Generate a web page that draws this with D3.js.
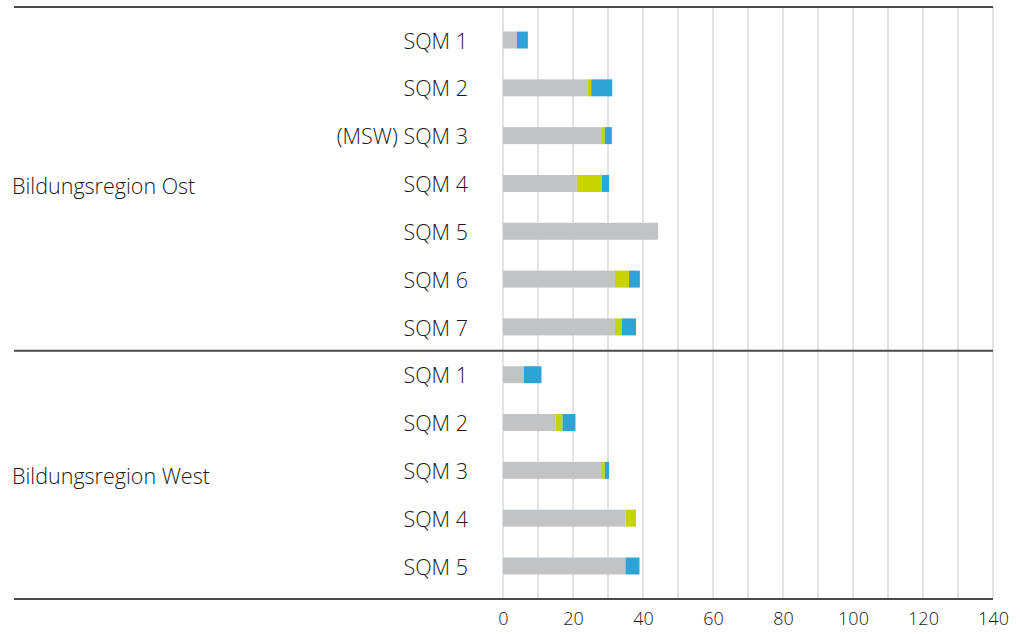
<!DOCTYPE html>
<html>
<head>
<meta charset="utf-8">
<script src="https://cdn.jsdelivr.net/npm/d3@7"></script>
<style>
    body { margin: 0; background: #fff; }
    text { font-family: "Open Sans", sans-serif; font-weight: 300; fill: #1a1a1a; }
</style>
</head>
<body>
<div id="chartArea"></div>
<script>
// data
let groups = ["Bildungsregion Ost", "Bildungsregion West"];
let ostLabels = ["SQM 1", "SQM 2", "(MSW) SQM 3", "SQM 4", "SQM 5", "SQM 6", "SQM 7"];
let westLabels = ["SQM 1", "SQM 2", "SQM 3", "SQM 4", "SQM 5"];

let ostGrau = [4, 24.2, 28, 21.1, 44.3, 32, 32];
let ostGelb = [0, 1, 1.1, 7.2, 0, 4, 2];
let ostBlau = [3.1, 6, 2, 2, 0, 3.1, 4];

let westGrau = [6, 15, 28, 35, 35];
let westGelb = [0, 2, 1.1, 3, 0];
let westBlau = [5, 3.7, 1.2, 0, 4];

let xTicks = [0, 20, 40, 60, 80, 100, 120, 140];

let colors = ["#c1c4c7", "#c8d400", "#2ea3d5"];

function drawGraph() {
    let width = 1021, height = 634;
    let left = 14, right = 993, top = 7, bottom = 599;

    // one row per bar, group id kept for the labels
    let rows = [];
    ostLabels.forEach((l, i) => rows.push({ id: 'o' + i, group: 0, label: l, vals: [ostGrau[i], ostGelb[i], ostBlau[i]] }));
    westLabels.forEach((l, i) => rows.push({ id: 'w' + i, group: 1, label: l, vals: [westGrau[i], westGelb[i], westBlau[i]] }));

    let svg = d3.select('#chartArea')
        .append('svg')
            .attr('width', width)
            .attr('height', height);

    let xScale = d3.scaleLinear()
        .domain([0, 140])
        .range([503, right]);

    let yScale = d3.scaleBand()
        .domain(rows.map(d => d.id))
        .range([top, bottom])
        .paddingInner(0.645)
        .paddingOuter(0.513);

    // gridlines every 10
    svg.append('g')
        .selectAll('line')
        .data(d3.range(0, 141, 10))
        .join('line')
            .attr('x1', d => xScale(d))
            .attr('x2', d => xScale(d))
            .attr('y1', top)
            .attr('y2', bottom)
            .attr('stroke', '#e3e3e3')
            .attr('stroke-width', 2);

    // stacked bars
    let stack = rows.map(r => {
        let acc = 0;
        return r.vals.map((v, k) => {
            let seg = { id: r.id, x0: acc, x1: acc + v, k: k };
            acc += v;
            return seg;
        });
    }).flat().filter(s => s.x1 > s.x0);

    svg.append('g')
        .selectAll('rect')
        .data(stack)
        .join('rect')
            .attr('x', d => xScale(d.x0))
            .attr('width', d => xScale(d.x1) - xScale(d.x0))
            .attr('y', d => yScale(d.id))
            .attr('height', yScale.bandwidth())
            .attr('fill', d => colors[d.k]);

    // row labels
    svg.append('g')
        .selectAll('text')
        .data(rows)
        .join('text')
            .attr('x', 468)
            .attr('y', d => yScale(d.id) + yScale.bandwidth() / 2)
            .attr('dy', '0.4em')
            .attr('text-anchor', 'end')
            .style('font-size', '21.5px')
            .text(d => d.label);

    // group labels
    let mid = [
        (yScale('o0') + yScale('o6')) / 2 + yScale.bandwidth() / 2 + 3,
        (yScale('w0') + yScale('w4')) / 2 + yScale.bandwidth() / 2 + 6
    ];
    svg.append('g')
        .selectAll('text')
        .data(groups)
        .join('text')
            .attr('x', 12)
            .attr('y', (d, i) => mid[i])
            .attr('dy', '0.36em')
            .style('font-size', '21.5px')
            .text(d => d);

    // frame lines
    let divider = (yScale('o6') + yScale('w0')) / 2 + yScale.bandwidth() / 2;
    svg.append('g')
        .selectAll('line')
        .data([top, divider, bottom])
        .join('line')
            .attr('x1', left)
            .attr('x2', right)
            .attr('y1', d => d)
            .attr('y2', d => d)
            .attr('stroke', '#4a4a4a')
            .attr('stroke-width', 2);

    // x axis labels
    let axis = svg.append('g')
        .attr('transform', 'translate(0,' + bottom + ')')
        .call(d3.axisBottom(xScale).tickValues(xTicks).tickSize(0).tickPadding(13));
    axis.select('.domain').remove();
    axis.selectAll('text')
        .style('font-size', '18px')
        .style('font-family', '"Open Sans", sans-serif')
        .style('font-weight', 300)
        .attr('fill', '#1a1a1a');
}

drawGraph();
</script>
</body>
</html>
